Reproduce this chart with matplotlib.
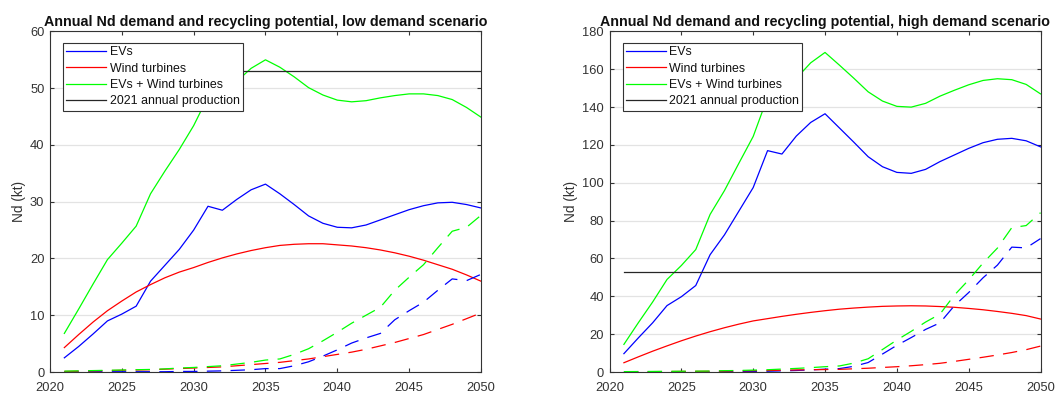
import matplotlib
matplotlib.use('Agg')
from matplotlib import pyplot as plt

plt.rcParams['font.family'] = ['Liberation Sans', 'DejaVu Sans']

years = list(range(2021, 2051))
production_2021 = 53  # kt

# low demand scenario (kt)
ev_low = [2.5, 4.5, 6.7, 9.0, 10.2, 11.6, 16.0, 18.8, 21.6, 25.0,
          29.2, 28.5, 30.4, 32.1, 33.1, 31.4, 29.5, 27.5, 26.2, 25.5,
          25.4, 25.9, 26.8, 27.7, 28.6, 29.3, 29.8, 29.9, 29.5, 28.9]
wind_low = [4.3, 6.6, 8.8, 10.8, 12.5, 14.1, 15.4, 16.6, 17.6, 18.4,
            19.3, 20.1, 20.8, 21.4, 21.9, 22.3, 22.5, 22.6, 22.6, 22.4,
            22.2, 21.9, 21.5, 21.0, 20.4, 19.7, 18.9, 18.1, 17.1, 16.0]
total_low = [6.8, 11.1, 15.5, 19.8, 22.7, 25.7, 31.4, 35.4, 39.2, 43.4,
             48.5, 48.6, 51.2, 53.5, 55.0, 53.7, 52.0, 50.1, 48.8, 47.9,
             47.6, 47.8, 48.3, 48.7, 49.0, 49.0, 48.7, 48.0, 46.6, 44.9]
ev_rec_low = [0.05, 0.05, 0.05, 0.05, 0.05, 0.05, 0.05, 0.05, 0.1, 0.1,
              0.15, 0.2, 0.3, 0.4, 0.6, 0.6, 1.1, 1.8, 2.8, 3.9,
              5.1, 6.0, 6.8, 9.2, 10.8, 12.3, 14.4, 16.4, 16.1, 17.2]
wind_rec_low = [0.1, 0.15, 0.2, 0.25, 0.3, 0.35, 0.4, 0.5, 0.6, 0.7,
                0.8, 0.9, 1.1, 1.3, 1.5, 1.7, 2.0, 2.3, 2.7, 3.1,
                3.5, 4.0, 4.6, 5.2, 5.9, 6.6, 7.5, 8.4, 9.4, 10.4]
total_rec_low = [0.15, 0.2, 0.25, 0.3, 0.35, 0.4, 0.45, 0.55, 0.7, 0.8,
                 0.95, 1.1, 1.4, 1.7, 2.1, 2.3, 3.1, 4.1, 5.5, 7.0,
                 8.6, 10.0, 11.4, 14.4, 16.7, 18.9, 21.9, 24.8, 25.5, 27.6]

# high demand scenario (kt)
ev_high = [9.7, 18.0, 26.0, 35.1, 39.8, 45.7, 62.0, 72.5, 85.0, 97.5,
           117.0, 115.2, 124.7, 131.9, 136.5, 129.0, 121.5, 113.8, 108.5, 105.5,
           105.0, 107.1, 111.2, 114.7, 118.2, 121.2, 123.0, 123.5, 122.2, 119.0]
wind_high = [4.9, 8.0, 11.0, 13.8, 16.5, 19.0, 21.3, 23.4, 25.3, 27.0,
             28.2, 29.4, 30.5, 31.5, 32.4, 33.2, 33.8, 34.3, 34.7, 34.9,
             35.0, 34.9, 34.6, 34.2, 33.6, 32.9, 32.0, 31.0, 29.8, 28.0]
total_high = [14.6, 26.0, 37.0, 48.9, 56.3, 64.7, 83.3, 95.9, 110.3, 124.5,
              145.2, 144.6, 155.2, 163.4, 168.9, 162.2, 155.3, 148.1, 143.2, 140.4,
              140.0, 142.0, 145.8, 148.9, 151.8, 154.1, 155.0, 154.5, 152.0, 147.0]
ev_rec_high = [0.1, 0.1, 0.1, 0.1, 0.1, 0.1, 0.1, 0.2, 0.2, 0.3,
               0.4, 0.6, 0.8, 1.1, 1.5, 1.8, 3.0, 5.0, 9.5, 14.1,
               18.2, 22.5, 26.0, 35.0, 42.0, 49.8, 56.5, 66.0, 65.6, 70.5]
wind_rec_high = [0.1, 0.15, 0.2, 0.25, 0.3, 0.35, 0.4, 0.5, 0.6, 0.7,
                 0.8, 0.95, 1.1, 1.2, 1.3, 1.4, 1.7, 2.0, 2.4, 2.8,
                 3.3, 3.9, 4.6, 5.6, 6.7, 7.8, 9.0, 10.3, 11.8, 13.7]
total_rec_high = [0.2, 0.25, 0.3, 0.35, 0.4, 0.45, 0.5, 0.7, 0.8, 1.0,
                  1.2, 1.55, 1.9, 2.3, 2.8, 3.2, 4.7, 7.0, 11.9, 16.9,
                  21.5, 26.4, 30.6, 40.6, 48.7, 57.6, 65.5, 76.3, 77.4, 84.2]

scenarios = [
    ('low', 60, 10, (ev_low, wind_low, total_low),
     (ev_rec_low, wind_rec_low, total_rec_low)),
    ('high', 180, 20, (ev_high, wind_high, total_high),
     (ev_rec_high, wind_rec_high, total_rec_high)),
]
labels = ['EVs', 'Wind turbines', 'EVs + Wind turbines']
colors = ['#0000ff', '#ff0000', '#00ff00']
axcol = '#333333'
dash = (0, (11.5, 7.5))

fig = plt.figure(figsize=(10.61, 3.96), dpi=100)
positions = [[0.0471, 0.0606, 0.4062, 0.86], [0.5745, 0.0606, 0.4062, 0.86]]

for pos, (name, ymax, ystep, demand, recycled) in zip(positions, scenarios):
    ax = fig.add_axes(pos)
    # solid: annual demand, dashed: recycling potential
    for vals, lab, c in zip(demand, labels, colors):
        ax.plot(years, vals, color=c, lw=0.9, label=lab)
    ax.plot([years[0], years[-1]], [production_2021] * 2, color='#262626',
            lw=0.9, label='2021 annual production')
    for vals, c in zip(recycled, colors):
        ax.plot(years, vals, color=c, lw=0.9, linestyle=dash)

    ax.set_xlim(2020, 2050)
    ax.set_ylim(0, ymax)
    ax.set_xticks(range(2020, 2051, 5))
    ax.set_yticks(range(0, ymax + 1, ystep))
    ax.grid(axis='y', color='#e3e3e3', lw=0.9)
    ax.set_axisbelow(True)
    ax.tick_params(direction='in', top=True, right=True, length=3.2,
                   width=0.8, color=axcol, labelcolor=axcol, labelsize=9.3)
    ax.tick_params(axis='x', pad=7.5)
    ax.tick_params(axis='y', pad=4)
    for sp in ax.spines.values():
        sp.set_color(axcol)
        sp.set_linewidth(0.8)
    ax.set_ylabel('Nd (kt)', fontsize=9.8, color=axcol, labelpad=3)
    ax.set_title('Annual Nd demand and recycling potential, %s demand scenario' % name,
                 fontsize=10.3, fontweight='bold', color='#111111', pad=4)

    leg = ax.legend(loc='upper left', bbox_to_anchor=(0.031, 0.966),
                    borderaxespad=0, fontsize=8.9, frameon=True, fancybox=False,
                    framealpha=1, edgecolor='#333333', handlelength=3.2,
                    handletextpad=0.3, labelspacing=0.36, borderpad=0.25)
    leg.get_frame().set_linewidth(0.8)
    leg.set_zorder(5)
    for t in leg.get_texts():
        t.set_color('#111111')

fig.savefig('out.png', dpi=100)
